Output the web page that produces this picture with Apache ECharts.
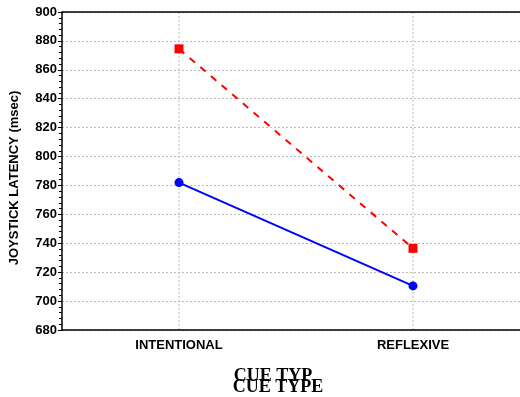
<!DOCTYPE html>
<html><head><meta charset="utf-8">
<script src="https://cdn.jsdelivr.net/npm/echarts@6/dist/echarts.min.js"></script>
<style>html,body{margin:0;padding:0;background:#fff;overflow:hidden;width:520px;height:397px}#c{width:530px;height:397px}</style>
</head><body><div id="c"></div>
<script>
var categories = ['INTENTIONAL', 'REFLEXIVE'];
var redValues = [874.5, 736.5];
var blueValues = [782, 710.5];
var yTicks = [680, 700, 720, 740, 760, 780, 800, 820, 840, 860, 880, 900];

var chart = echarts.init(document.getElementById('c'));
chart.setOption({
  animation: false,
  backgroundColor: '#fff',
  grid: {left: 62, top: 12, right: 0, bottom: 67, containLabel: false},
  xAxis: {
    type: 'category', data: categories, boundaryGap: true,
    axisLine: {lineStyle: {color: '#000', width: 1.5}},
    axisTick: {show: false},
    axisLabel: {color: '#000', fontWeight: 'bold', fontSize: 13, fontFamily: 'Liberation Sans, Arial', margin: 9,
      interval: 0},
    splitLine: {show: false}
  },
  yAxis: {
    type: 'value', min: yTicks[0], max: yTicks[yTicks.length-1], interval: 20,
    axisLine: {show: true, lineStyle: {color: '#000', width: 1.5}},
    axisTick: {show: true, length: 4, lineStyle: {color: '#000'}},
    minorTick: {show: true, splitNumber: 5, length: 3, lineStyle: {color: '#000'}},
    axisLabel: {color: '#000', fontWeight: 'bold', fontSize: 13, fontFamily: 'Liberation Sans, Arial', margin: 5},
    splitLine: {show: true, lineStyle: {color: '#bbb', type: [2, 2], width: 1}}
  },
  graphic: [
    {type: 'line', shape: {x1: 62, y1: 12, x2: 530, y2: 12}, style: {stroke: '#000', lineWidth: 1.5}, z: 10},
    {type: 'line', shape: {x1: 179, y1: 12, x2: 179, y2: 330}, style: {stroke: '#bbb', lineWidth: 1, lineDash: [2, 2]}, z: 0},
    {type: 'line', shape: {x1: 413, y1: 12, x2: 413, y2: 330}, style: {stroke: '#bbb', lineWidth: 1, lineDash: [2, 2]}, z: 0},
    {type: 'text', x: 14, y: 178, rotation: Math.PI/2, style: {text: 'JOYSTICK LATENCY (msec)', fill: '#000', font: 'bold 13px "Liberation Sans", Arial', textAlign: 'center', textVerticalAlign: 'middle'}},
    {type: 'text', style: {text: 'CUE TYP', x: 273, y: 376, fill: '#000', font: 'bold 18px "Liberation Serif", "Times New Roman"', textAlign: 'center', textVerticalAlign: 'middle'}},
    {type: 'text', style: {text: 'CUE TYPE', x: 278, y: 387, fill: '#000', font: 'bold 18px "Liberation Serif", "Times New Roman"', textAlign: 'center', textVerticalAlign: 'middle'}}
  ],
  series: [
    {type: 'line', data: redValues, symbol: 'rect', symbolSize: 9,
      lineStyle: {color: '#ff0000', width: 2, type: [7, 7]}, itemStyle: {color: '#ff0000'}},
    {type: 'line', data: blueValues, symbol: 'circle', symbolSize: 9,
      lineStyle: {color: '#0000ff', width: 2}, itemStyle: {color: '#0000ff'}}
  ]
});
</script></body></html>
